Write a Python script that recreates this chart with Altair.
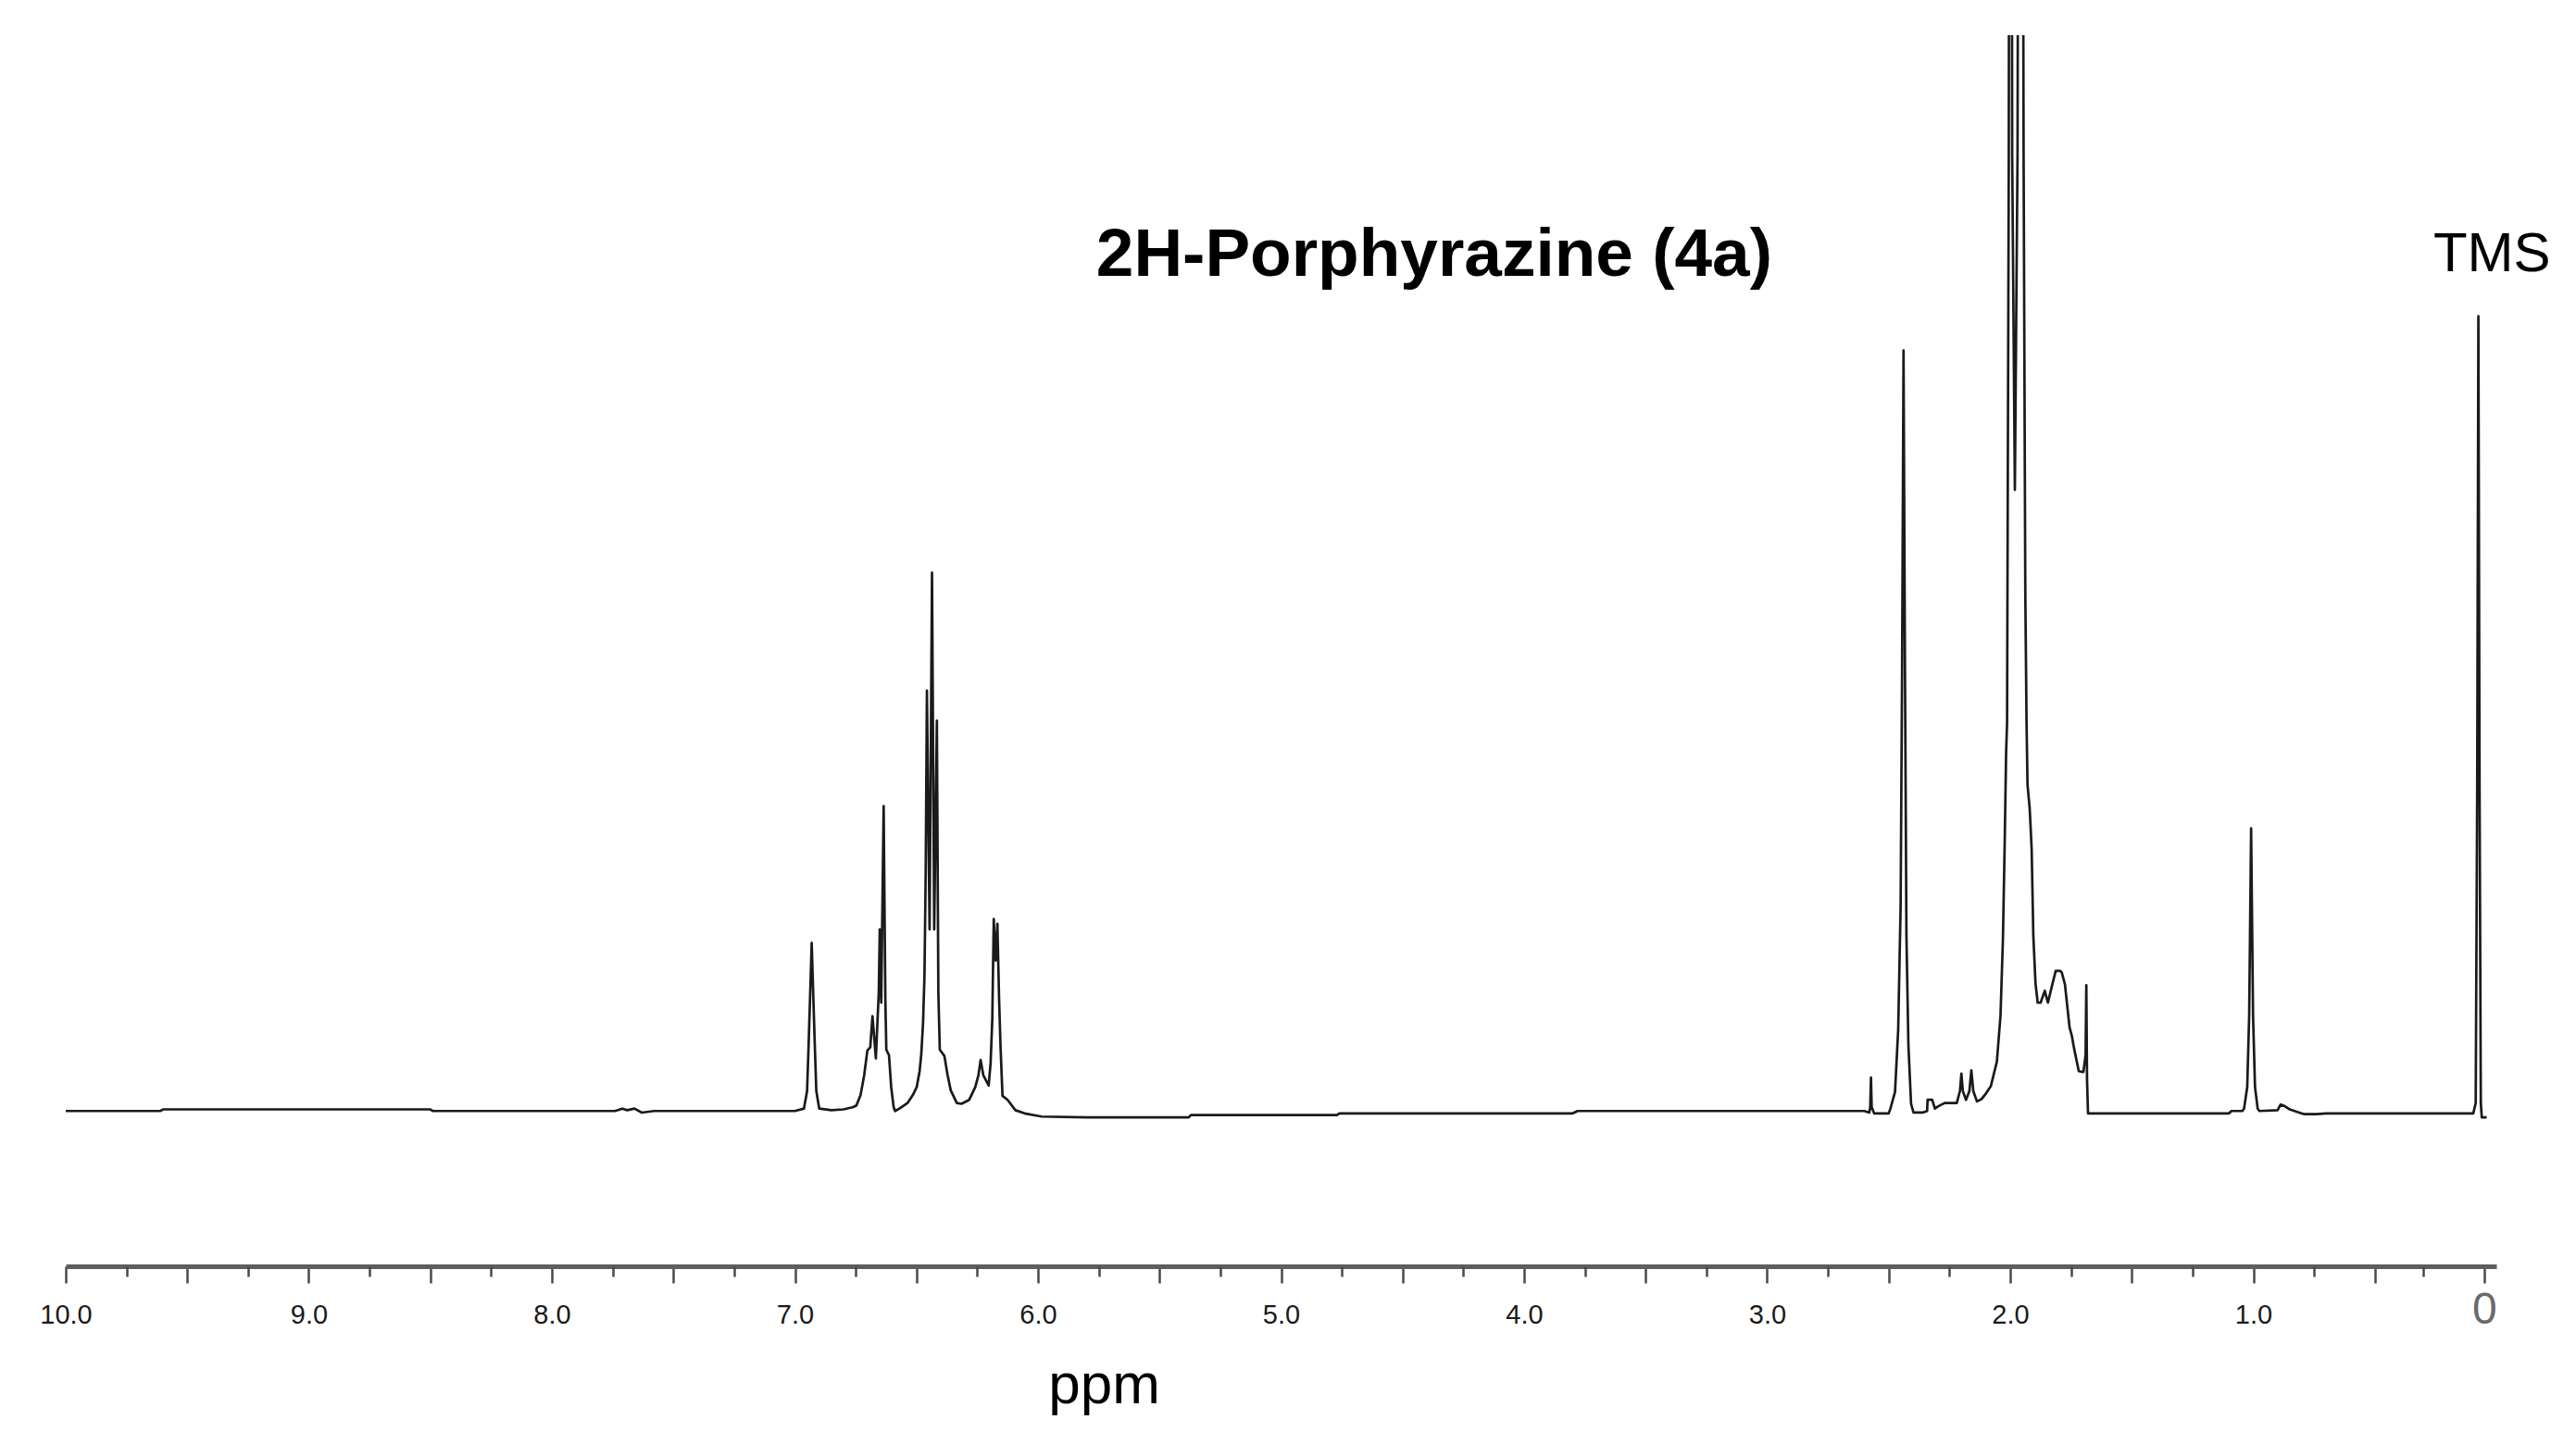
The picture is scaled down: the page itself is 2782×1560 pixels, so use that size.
import altair as alt
import pandas as pd

# ---- spectrum trace (ppm, intensity a.u., TMS ~ 100) ----
ppm = [
    10.00, 9.61, 9.60, 8.50, 8.49, 7.74, 7.71, 7.69, 7.66, 7.63, 7.58, 7.00,
    6.963, 6.950, 6.943, 6.935, 6.931, 6.927, 6.919, 6.912, 6.900, 6.850, 6.800, 6.760,
    6.747, 6.730, 6.715, 6.702, 6.690, 6.681, 6.667, 6.655, 6.651, 6.645, 6.635, 6.628,
    6.624, 6.613, 6.604, 6.594, 6.588, 6.570, 6.537, 6.515, 6.499, 6.487, 6.480, 6.473,
    6.467, 6.462, 6.457, 6.446, 6.436, 6.427, 6.416, 6.410, 6.404, 6.385, 6.372, 6.359,
    6.334, 6.315, 6.283, 6.258, 6.245, 6.236, 6.225, 6.203, 6.195, 6.188, 6.182, 6.174,
    6.167, 6.160, 6.154, 6.146, 6.125, 6.093, 6.055, 5.985, 5.800, 5.380, 5.370, 4.770,
    4.760, 3.800, 3.780, 2.600, 2.580, 2.576, 2.573, 2.570, 2.560, 2.500, 2.493, 2.474,
    2.461, 2.451, 2.445, 2.439, 2.433, 2.427, 2.419, 2.408, 2.398, 2.360, 2.342, 2.340,
    2.321, 2.310, 2.296, 2.270, 2.220, 2.207, 2.201, 2.195, 2.182, 2.168, 2.160, 2.152,
    2.137, 2.118, 2.100, 2.080, 2.055, 2.040, 2.030, 2.023, 2.017, 2.013, 2.006, 2.000,
    1.992, 1.981, 1.970, 1.958, 1.945, 1.938, 1.933, 1.929, 1.920, 1.912, 1.905, 1.896,
    1.887, 1.875, 1.858, 1.845, 1.830, 1.813, 1.795, 1.788, 1.775, 1.756, 1.747, 1.737,
    1.718, 1.699, 1.690, 1.687, 1.684, 1.680, 1.100, 1.090, 1.045, 1.038, 1.025, 1.017,
    1.009, 1.001, 0.993, 0.982, 0.975, 0.900, 0.888, 0.870, 0.850, 0.811, 0.790, 0.740,
    0.700, 0.095, 0.085, 0.079, 0.074, 0.069, 0.064, 0.060, 0.040,
]
intensity = [
    0.0, 0.0, 0.2, 0.2, 0.0, 0.0, 0.3, 0.1, 0.3, -0.2, 0.0, 0.0,
    0.3, 2.5, 9.0, 17.0, 21.1, 17.0, 9.0, 2.5, 0.3, 0.1, 0.2, 0.5,
    0.7, 2.0, 4.5, 7.6, 8.0, 11.9, 6.6, 15.0, 22.8, 13.6, 38.3, 14.0,
    7.7, 7.0, 3.0, 0.5, 0.0, 0.3, 1.0, 2.0, 3.0, 5.0, 7.2, 11.0,
    17.0, 30.0, 52.8, 22.8, 67.6, 22.8, 49.0, 15.0, 7.7, 6.9, 4.5, 2.6,
    1.0, 0.9, 1.4, 3.0, 4.5, 6.4, 4.5, 3.2, 6.0, 11.5, 24.1, 18.9,
    23.5, 14.0, 8.0, 1.9, 1.4, 0.1, -0.3, -0.7, -0.8, -0.8, -0.5, -0.5,
    -0.3, -0.3, 0.0, 0.0, -0.2, 0.5, 4.2, 0.5, -0.3, -0.3, 0.3, 2.4,
    10.2, 25.7, 55.0, 95.5, 55.0, 21.9, 8.3, 0.9, -0.2, -0.2, 0.0, 1.4,
    1.4, 0.3, 0.6, 1.0, 1.0, 2.5, 4.7, 2.5, 1.4, 2.5, 5.1, 2.5,
    1.2, 1.5, 2.2, 3.1, 6.2, 12.0, 21.7, 33.3, 45.0, 48.8, 120.0, 300.0,
    120.0, 78.0, 120.0, 300.0, 120.0, 65.0, 49.0, 41.0, 38.0, 33.0, 22.0, 16.0,
    13.6, 13.6, 15.1, 13.6, 15.5, 17.6, 17.6, 17.4, 15.9, 10.5, 9.5, 7.8,
    5.0, 4.9, 7.0, 15.8, 3.9, -0.3, -0.3, 0.0, 0.0, 0.3, 3.0, 12.0,
    35.5, 12.0, 3.0, 0.3, 0.0, 0.1, 0.8, 0.6, 0.2, -0.2, -0.4, -0.4,
    -0.3, -0.3, 1.0, 40.0, 99.8, 40.0, 1.0, -0.8, -0.8,
]

# ---- axis ticks ----
major_ticks = [10.0, 9.5, 9.0, 8.5, 8.0, 7.5, 7.0, 6.5, 6.0, 5.5, 5.0, 4.5,
               4.0, 3.5, 3.0, 2.5, 2.0, 1.5, 1.0, 0.5, 0.05]
minor_ticks = [9.75, 9.25, 8.75, 8.25, 7.75, 7.25, 6.75, 6.25, 5.75, 5.25, 4.75,
               4.25, 3.75, 3.25, 2.75, 2.25, 1.75, 1.25, 0.75, 0.30]

# ---- annotations ----
title_label = ["2H-Porphyrazine (4a)"]
title_ppm = [4.37]
title_int = [104.9]
tms_label = ["TMS"]
tms_ppm = [0.018]
tms_int = [105.5]

X_DOMAIN = [10.0, 0.0]
Y_DOMAIN = [-19.5, 135.1]

spec = pd.DataFrame({"ppm": ppm, "intensity": intensity,
                     "order": list(range(len(ppm)))})
title_df = pd.DataFrame({"label": title_label, "ppm": title_ppm, "y": title_int})
tms_df = pd.DataFrame({"label": tms_label, "ppm": tms_ppm, "y": tms_int})

xscale = alt.Scale(domain=X_DOMAIN, nice=False, zero=False)
yscale = alt.Scale(domain=Y_DOMAIN, nice=False, zero=False)

major_axis = alt.Axis(
    orient="bottom",
    values=major_ticks,
    labelExpr="datum.value < 0.1 ? '0' : (datum.value % 1 == 0 ? format(datum.value, '.1f') : '')",
    grid=False,
    domainColor="#5e5e5e",
    domainWidth=5,
    tickColor="#4a4a4a",
    tickWidth=2.5,
    tickSize=18,
    labelFont="Liberation Sans",
    labelFontSize={"condition": {"test": "datum.value < 0.1", "value": 48}, "value": 29},
    labelColor={"condition": {"test": "datum.value < 0.1", "value": "#6a6a6a"}, "value": "#1a1a1a"},
    labelBaseline="alphabetic",
    labelPadding=43,
    labelFlush=False,
    labelOverlap=False,
    labelBound=False,
    title="ppm",
    titleFont="Liberation Sans",
    titleFontSize=62,
    titleFontWeight="normal",
    titleColor="#000000",
    titleAlign="center",
    titleBaseline="alphabetic",
    titleX=1121,
    titleY=147,
)

minor_axis = alt.Axis(
    orient="bottom",
    values=minor_ticks,
    labels=False,
    domain=False,
    grid=False,
    tickColor="#4a4a4a",
    tickWidth=2.5,
    tickSize=11,
    title=None,
)

line = alt.Chart(spec).mark_line(
    clip=True, color="#1a1a1a", strokeWidth=2.7, strokeJoin="round"
).encode(
    x=alt.X("ppm:Q", scale=xscale, axis=major_axis),
    y=alt.Y("intensity:Q", scale=yscale, axis=None),
    order="order:Q",
)

title_layer = alt.Chart(title_df).mark_text(
    font="Liberation Sans", fontWeight="bold", fontSize=73,
    align="center", baseline="alphabetic", color="#000000",
).encode(
    x=alt.X("ppm:Q", scale=xscale, axis=minor_axis),
    y=alt.Y("y:Q", scale=yscale, axis=None),
    text="label:N",
)

tms_layer = alt.Chart(tms_df).mark_text(
    font="Liberation Sans", fontSize=60,
    align="center", baseline="alphabetic", color="#000000",
).encode(
    x=alt.X("ppm:Q", scale=xscale, axis=None),
    y=alt.Y("y:Q", scale=yscale, axis=None),
    text="label:N",
)

chart = alt.layer(line, title_layer, tms_layer).resolve_scale(
    x="independent"
).properties(
    width=2625,
    height=1330,
    padding={"left": 63, "top": 30, "right": 78, "bottom": 184},
    autosize=alt.AutoSizeParams(type="none"),
    background="white",
).configure_view(strokeWidth=0)

chart.save("out.html", embed_options={"renderer": "svg", "actions": False})
